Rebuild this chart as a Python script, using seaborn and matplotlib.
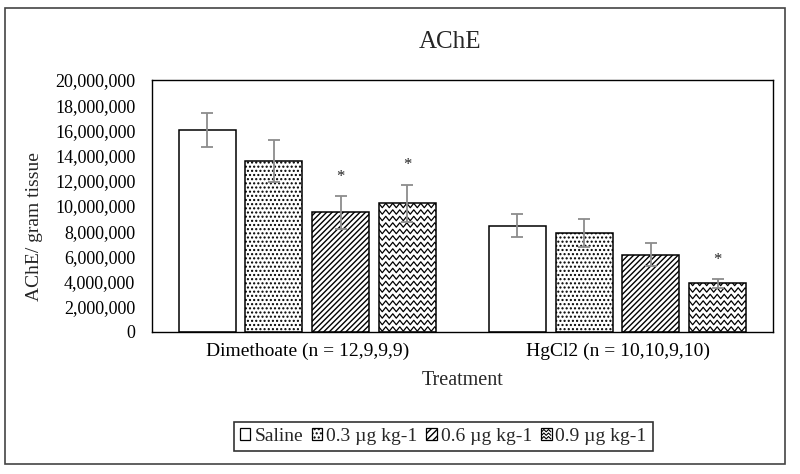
import matplotlib
matplotlib.use("Agg")
import matplotlib.pyplot as plt
import numpy as np
import pandas as pd
import seaborn as sns
from matplotlib.lines import Line2D
from matplotlib.patches import Patch, Rectangle
from matplotlib.legend_handler import HandlerBase
from matplotlib.ticker import FuncFormatter

# 数据
treatments = ["Dimethoate (n = 12,9,9,9)", "HgCl2 (n = 10,10,9,10)"]
doses = ["Saline", "0.3 µg kg-1", "0.6 µg kg-1", "0.9 µg kg-1"]
dimethoate_mean = [16000000, 13550000, 9500000, 10200000]
dimethoate_se = [1350000, 1650000, 1300000, 1500000]
hgcl2_mean = [8450000, 7830000, 6130000, 3860000]
hgcl2_se = [930000, 1100000, 930000, 370000]
dimethoate_sig = [False, False, True, True]
hgcl2_sig = [False, False, False, True]

SERIF = ["Liberation Serif", "DejaVu Serif"]


def zigzag(x0, x1, y, wave, amp):
    """生成一条水平锯齿线的坐标"""
    n = int(np.ceil((x1 - x0) / (wave / 2))) + 2
    xs = x0 - wave / 2 + np.arange(n) * wave / 2
    ys = y + np.where(np.arange(n) % 2 == 0, -amp, amp)
    return xs, ys


class HandlerZigzag(HandlerBase):
    def create_artists(self, legend, orig_handle, xdescent, ydescent, width, height, fontsize, trans):
        x0, y0 = -xdescent, -ydescent
        rect = Rectangle((x0, y0), width, height, facecolor="white", edgecolor="black",
                         lw=0.9, transform=trans)
        arts = [rect]
        for k in range(3):
            yy = y0 + height * (0.2 + 0.3 * k)
            n = 5
            xs = np.linspace(x0 + 0.5, x0 + width - 0.5, n)
            ys = yy + np.where(np.arange(n) % 2 == 0, -height * 0.1, height * 0.1)
            arts.append(Line2D(xs, ys, color="black", lw=0.8, transform=trans))
        return arts


def main():
    sns.set_theme(style="white")
    plt.rcParams["font.family"] = SERIF

    df = pd.DataFrame({
        "treatment": np.repeat(treatments, len(doses)),
        "dose": doses * len(treatments),
        "mean": dimethoate_mean + hgcl2_mean,
    })
    se = [dimethoate_se, hgcl2_se]
    sig = [dimethoate_sig, hgcl2_sig]
    means = [dimethoate_mean, hgcl2_mean]

    fig = plt.figure(figsize=(8, 4.74), dpi=100)
    ax = fig.add_axes([0.19, 0.2996, 0.776, 0.5316])

    sns.barplot(data=df, x="treatment", y="mean", hue="dose", hue_order=doses,
                palette=["white"] * 4, edgecolor="black", linewidth=1.1,
                width=0.86, gap=0.145, errorbar=None, legend=False, ax=ax)

    ax.set_ylim(0, 20000000)
    ax.set_xlim(-0.5, 1.5)
    ax.set_yticks(np.arange(0, 20000001, 2000000))
    ax.yaxis.set_major_formatter(FuncFormatter(lambda v, p: f"{int(v):,}"))

    # 像素与数据单位换算，用于锯齿纹理
    px_x = (ax.get_xlim()[1] - ax.get_xlim()[0]) / (0.776 * 800)
    px_y = (ax.get_ylim()[1] - ax.get_ylim()[0]) / (0.5316 * 474)

    hatches = ["", "....", "//////", None]
    bar_conts = list(ax.containers)
    for i, cont in enumerate(bar_conts):
        for j, bar in enumerate(cont):
            if hatches[i]:
                bar.set_hatch(hatches[i])
            if hatches[i] is None:
                bx0, bx1 = bar.get_x(), bar.get_x() + bar.get_width()
                y = 3 * px_y
                while y < bar.get_height() + 6 * px_y:
                    xs, ys = zigzag(bx0, bx1, y, 7 * px_x, 2.2 * px_y)
                    ln = Line2D(xs, ys, color="black", lw=0.9)
                    ax.add_line(ln)
                    ln.set_clip_path(bar)
                    y += 6.5 * px_y
            cx = bar.get_x() + bar.get_width() / 2
            ax.errorbar(cx, means[j][i], yerr=se[j][i], fmt="none", ecolor="#8c8c8c",
                        elinewidth=1.3, capsize=4.5, capthick=1.3, zorder=5)
            if sig[j][i]:
                ax.text(cx, means[j][i] + se[j][i] + 1200000, "*", ha="center",
                        va="baseline", fontsize=12, color="#222222")

    for s in ax.spines.values():
        s.set_visible(True)
        s.set_color("black")
        s.set_linewidth(1.0)
    ax.tick_params(axis="y", length=0, labelsize=13, colors="black", pad=12)
    ax.tick_params(axis="x", length=0, labelsize=14, colors="black", pad=8)
    ax.set_xlabel("Treatment", fontsize=14.5)
    ax.xaxis.set_label_coords(0.5, -0.194)
    ax.xaxis.label.set_va("center")
    ax.set_ylabel("AChE/ gram tissue", fontsize=14)
    ax.yaxis.set_label_coords(-0.19, 0.42)
    ax.yaxis.label.set_va("center")
    ax.text(0.48, 1.15, "AChE", transform=ax.transAxes, ha="center", va="center",
            fontsize=18)

    handles = [Patch(facecolor="white", edgecolor="black", hatch=h, lw=0.9)
               for h in ["", "....", "/////"]]
    handles.append(Patch(facecolor="white", edgecolor="black"))
    leg = fig.legend(handles, doses, loc="center", bbox_to_anchor=(0.554, 0.079), ncol=4,
                     frameon=True, fancybox=False, edgecolor="black", fontsize=14,
                     handlelength=0.55, handleheight=0.55, handletextpad=0.2,
                     columnspacing=0.45, borderpad=0.3,
                     handler_map={handles[3]: HandlerZigzag()})
    leg.get_frame().set_linewidth(1.2)

    fig.patches.append(Rectangle((0.00625, 0.021), 0.975, 0.962, transform=fig.transFigure,
                                 fill=False, edgecolor="#444444", lw=1.2))

    fig.savefig("out.png", dpi=100)
    plt.close(fig)


if __name__ == "__main__":
    main()
